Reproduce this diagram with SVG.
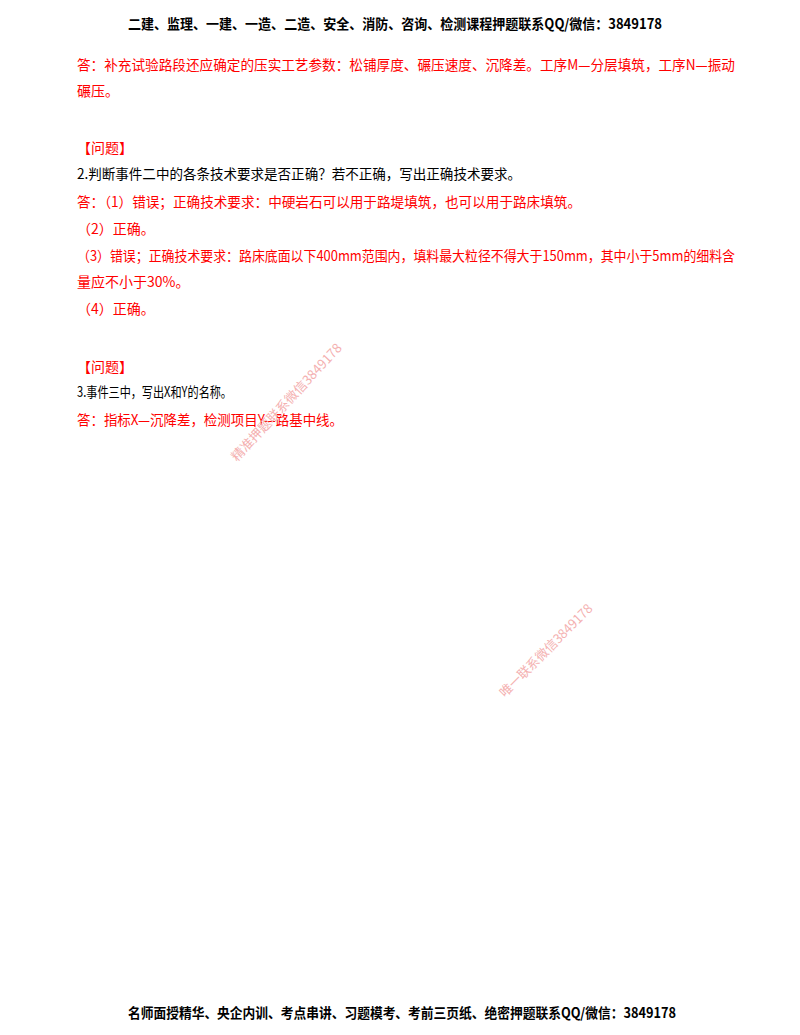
<svg xmlns="http://www.w3.org/2000/svg" width="800" height="1035" viewBox="0 0 800 1035">
<style>
text{font-family:"Noto Sans CJK SC","Liberation Serif",serif;font-size:14px;fill:#000}
.r{fill:#f00}
.h{font-weight:bold;font-size:14px}
.w{fill:#f4b0b0;font-size:13px}
</style>
<rect width="800" height="1035" fill="#fff"/>
<text class="h" x="128" y="29" textLength="534" lengthAdjust="spacingAndGlyphs">二建、监理、一建、一造、二造、安全、消防、咨询、检测课程押题联系QQ/微信：3849178</text>
<text class="r" x="77" y="70" textLength="658" lengthAdjust="spacingAndGlyphs">答：补充试验路段还应确定的压实工艺参数：松铺厚度、碾压速度、沉降差。工序M—分层填筑，工序N—振动</text>
<text class="r" x="77" y="96">碾压。</text>
<text class="r" x="77" y="153">【问题】</text>
<text x="77" y="179" textLength="444" lengthAdjust="spacingAndGlyphs">2.判断事件二中的各条技术要求是否正确？若不正确，写出正确技术要求。</text>
<text class="r" x="77" y="207" textLength="504" lengthAdjust="spacingAndGlyphs">答：（1）错误；正确技术要求：中硬岩石可以用于路堤填筑，也可以用于路床填筑。</text>
<text class="r" x="77" y="234">（2）正确。</text>
<text class="r" x="77" y="261" textLength="658" lengthAdjust="spacingAndGlyphs">（3）错误；正确技术要求：路床底面以下400mm范围内，填料最大粒径不得大于150mm，其中小于5mm的细料含</text>
<text class="r" x="77" y="287">量应不小于30%。</text>
<text class="r" x="77" y="314">（4）正确。</text>
<text class="r" x="77" y="372">【问题】</text>
<text x="77" y="397" textLength="155" lengthAdjust="spacingAndGlyphs">3.事件三中，写出X和Y的名称。</text>
<text class="r" x="77" y="425" textLength="266" lengthAdjust="spacingAndGlyphs">答：指标X—沉降差，检测项目Y—路基中线。</text>
<text class="w" transform="translate(237,462) rotate(-47)" textLength="155" lengthAdjust="spacingAndGlyphs">精准押题联系微信3849178</text>
<text class="w" transform="translate(505,698) rotate(-45)" textLength="125" lengthAdjust="spacingAndGlyphs">唯一联系微信3849178</text>
<text class="h" x="128" y="1018" textLength="548" lengthAdjust="spacingAndGlyphs">名师面授精华、央企内训、考点串讲、习题模考、考前三页纸、绝密押题联系QQ/微信：3849178</text>
</svg>
